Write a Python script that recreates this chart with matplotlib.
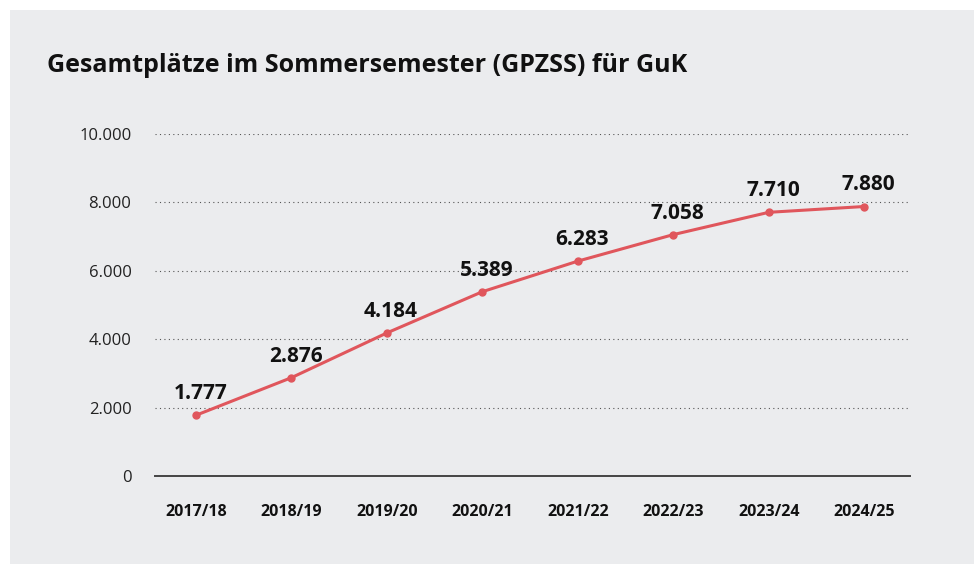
import matplotlib.pyplot as plt
from matplotlib.patches import Rectangle
from matplotlib.ticker import FuncFormatter

semesters = ["2017/18", "2018/19", "2019/20", "2020/21", "2021/22", "2022/23", "2023/24", "2024/25"]
places = [1777, 2876, 4184, 5389, 6283, 7058, 7710, 7880]
yticks = [0, 2000, 4000, 6000, 8000, 10000]

bg = "#ebecee"
red = "#e0565c"
plt.rcParams["font.family"] = ["Open Sans", "DejaVu Sans"]


def de_fmt(v, pos=None):
    return f"{int(v):,}".replace(",", ".")


fig = plt.figure(figsize=(9.74, 5.64), dpi=100, facecolor="white")
fig.patches.append(Rectangle((10 / 974, 0), 1, 1 - 10 / 564, transform=fig.transFigure,
                             facecolor=bg, edgecolor="none", zorder=-5))
fig.text(47 / 974, 1 - 66 / 564, "Gesamtplätze im Sommersemester (GPZSS) für GuK",
         fontsize=18, fontweight="bold", va="center", ha="left", color="#111111")

ax = fig.add_axes([155 / 974, 88 / 564, 755 / 974, 342 / 564])
ax.set_facecolor(bg)
x = range(len(semesters))
ax.plot(x, places, color=red, linewidth=2.2, marker="o", markersize=5, zorder=3, clip_on=False)

for xi, v in zip(x, places):
    ax.annotate(de_fmt(v), xy=(xi, v), xytext=(3, 8), textcoords="offset points",
                ha="center", va="bottom", fontsize=15, fontweight="bold", color="#111111")

ax.set_xlim(-0.43, 7.48)
ax.set_ylim(0, 10000)
ax.set_yticks(yticks)
ax.yaxis.set_major_formatter(FuncFormatter(de_fmt))
ax.set_xticks(list(x))
ax.set_xticklabels(semesters, fontweight="bold")
ax.tick_params(axis="y", length=0, pad=17, labelsize=12, labelcolor="#222222")
ax.tick_params(axis="x", length=0, pad=20, labelsize=11.5, labelcolor="#111111")

ax.grid(axis="y", linestyle=(0, (1, 3)), color="#555555", linewidth=0.8)
ax.grid(axis="x", visible=False)
for side in ["top", "right", "left"]:
    ax.spines[side].set_visible(False)
ax.spines["bottom"].set_color("#444444")
ax.spines["bottom"].set_linewidth(1.4)
ax.set_axisbelow(True)

fig.savefig("out.png", dpi=100, facecolor="white")
